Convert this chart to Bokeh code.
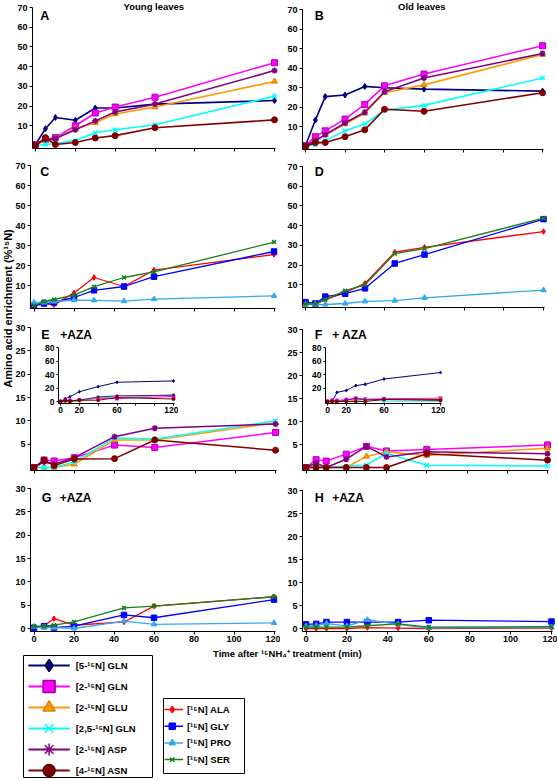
import math
from bokeh.plotting import figure
from bokeh.models import Range1d, FixedTicker, Label, ColumnDataSource, Column
from bokeh.embed import file_html
from bokeh.resources import INLINE
from bokeh.core.properties import value

FONT = "Liberation Sans"

# ---------------- data ----------------
T_A = [0, 5, 10, 20, 30, 40, 60, 120]
T_B = [0, 5, 10, 20, 30, 40, 60, 120]
T_C = [0, 5, 10, 20, 30, 45, 60, 120]
T_D = [0, 5, 10, 20, 30, 45, 60, 120]
T_E = [0, 5, 10, 20, 40, 60, 120]
T_F = [0, 5, 10, 20, 30, 40, 60, 120]
T_G = [0, 5, 10, 20, 45, 60, 120]
T_H = [0, 5, 10, 20, 30, 45, 60, 120]

A_gln5 = [0.5, 8.5, 14.2, 12.8, 19, 19, 21, 22.8]
A_gln2 = [0.5, 3, 4, 10, 16.5, 19.5, 24.5, 42]
A_glu = [0.3, 2.5, 3.5, 8.5, 11.5, 16, 19.5, 32.5]
A_gln25 = [0, 0.5, 1, 2.5, 6.5, 8, 10.5, 25]
A_asp = [0.5, 3, 3.5, 8, 12.5, 17, 21, 38]
A_asn = [0, 4, 0.5, 1.5, 3.8, 5, 9, 13]

B_gln5 = [0.5, 13.5, 25.5, 26.3, 30.7, 30, 29.3, 28.3]
B_gln2 = [0.5, 5, 8, 14, 21.5, 31, 37, 51.5]
B_glu = [0.3, 3, 6, 11.5, 17, 27.5, 31.5, 47]
B_gln25 = [0, 1, 3, 8, 11.5, 18.5, 21, 35]
B_asp = [0.5, 3, 6, 12, 17.5, 28, 35, 47.5]
B_asn = [0, 2, 2, 5, 8.5, 19, 18, 27.5]

C_ala = [0, 1, 0.3, 6.3, 14, 9.5, 17.7, 25.5]
C_gly = [0, 1, 1.5, 4, 7.6, 9.5, 14.4, 27]
C_pro = [1.5, 1.5, 2, 2.7, 2.6, 2.2, 3.2, 4.8]
C_ser = [0, 2, 3, 5.2, 9.4, 14, 16.8, 31.7]

D_ala = [0, 0.2, 2.5, 6, 10.7, 26.5, 29, 37]
D_gly = [1.2, 0.5, 4, 5.5, 8.2, 20.8, 25.3, 43.3]
D_pro = [0, 0, 0, 0.5, 1.6, 2, 3.4, 7.3]
D_ser = [0.3, 0.3, 2.5, 7, 10, 25.8, 28.3, 43.8]

E_gln5 = [0, 4, 7, 14.5, 22, 28.5, 30.5]
E_gln2 = [0, 1.6, 1.4, 2.1, 4.8, 4.3, 7.5]
E_glu = [0, 0, 0, 0.7, 5.9, 5.9, 9.6]
E_gln25 = [0, 0, 0, 1.2, 6.3, 6.1, 10]
E_asp = [0, 1.2, 0.7, 2.1, 6.6, 8.4, 9.3]
E_asn = [0, 1.6, 0.4, 1.8, 1.9, 5.9, 3.7]

F_gln5 = [0, 0, 13.5, 16.4, 23.6, 25.5, 33.3, 42.9]
F_gln2 = [0, 1.7, 1.4, 2.9, 4.6, 3.6, 3.9, 4.9]
F_glu = [0, 0, 0, 0, 2.4, 3.4, 2.6, 4.2]
F_gln25 = [0, 0.5, 0, 0.3, 0.5, 3.1, 0.5, 0.3]
F_asp = [0, 1, 0, 1.8, 4.6, 2.3, 3.4, 3]
F_asn = [0, 0, 0, 0, 0, 0, 3, 1.6]

G_ala = [0.1, 0.6, 2.1, 0.7, 1.4, 4.8, 6.8]
G_gly = [0.1, 0.5, 0.2, 0.5, 2.9, 2.3, 6.2]
G_pro = [0.4, 0.2, 0.2, 0, 1.6, 0.9, 1.2]
G_ser = [0.5, 0.5, 0.7, 1.4, 4.4, 4.8, 6.8]

H_ala = [0, 0, 0, 0, 0.2, 0.1, 0, 0.1]
H_gly = [0.9, 1.0, 1.4, 1.4, 1.4, 1.4, 1.8, 1.5]
H_pro = [0.5, 0.6, 1.1, 0.5, 1.9, 0.9, 0.1, 0.3]
H_ser = [0.3, 0.3, 0.3, 0.3, 0.6, 1.0, 0.3, 0.4]

S1_LABELS = ["[5-\u00b9\u2075N] GLN", "[2-\u00b9\u2075N] GLN", "[2-\u00b9\u2075N] GLU",
             "[2,5-\u00b9\u2075N] GLN", "[2-\u00b9\u2075N] ASP", "[4-\u00b9\u2075N] ASN"]
S2_LABELS = ["[\u00b9\u2075N] ALA", "[\u00b9\u2075N] GLY", "[\u00b9\u2075N] PRO", "[\u00b9\u2075N] SER"]

X_TICKS = [0, 20, 40, 60, 80, 100, 120]
Y_TICKS_70 = [10, 20, 30, 40, 50, 60, 70]
Y_TICKS_30 = [5, 10, 15, 20, 25, 30]
Y_TICKS_30Z = [0, 5, 10, 15, 20, 25, 30]
INSET_Y_E = [0, 20, 40, 60, 80]
INSET_Y_F = [20, 40, 60, 80]

# ---------------- styles ----------------
S1_COLORS = ["#000080", "#FF00FF", "#FF9900", "#00FFFF", "#800080", "#800000"]
S1_LINES = ["#000080", "#B000B0", "#E08000", "#00E0E0", "#800080", "#800000"]
S1_MARKERS = ["diamond", "square", "triangle", "x", "asterisk", "circle"]
S2_COLORS = ["#FF0000", "#0000FF", "#33AAEE", "#1A7F1A"]
S2_MARKERS = ["diamond", "square", "triangle", "x"]

PAGE_W, PAGE_H = 558, 781
LPAD = 60  # generous left border so every frame is placed exactly
BG_W = 490  # text layer width (kept so that LPAD + BG_W <= page width)


def absolute(left, top):
    return {"position": "absolute", "left": f"{left}px", "top": f"{top}px"}


def borders(l, r, t, b):
    return dict(min_border=0, min_border_left=l, min_border_right=r,
                min_border_top=t, min_border_bottom=b)


def bare_figure(frame_left, frame_top, fw, fh, x_range, y_range, **kw):
    p = figure(width=LPAD + fw, height=fh, x_range=x_range, y_range=y_range,
               output_backend="svg", toolbar_location=None,
               x_axis_type=None, y_axis_type=None,
               styles=absolute(frame_left - LPAD, frame_top), **borders(LPAD, 0, 0, 0), **kw)
    p.grid.visible = False
    return p


def make_panel(x0_px, x120_px, y0_px, ytop_px, ymax, yticks, xlabels,
               font_size="9px", BB=22, xtick_list=X_TICKS, xoverrides=None,
               tick_out=3, standoff=2, pad=3, pad_r=4, pad_t=3):
    """One figure per panel: axes on the frame edges, frame padded a little so
    markers sitting on zero are not clipped."""
    sx = (x120_px - x0_px) / 120.0
    sy = (y0_px - ytop_px) / float(ymax)
    fl, fr = int(round(x0_px - pad)), int(round(x120_px + pad_r))
    ft, fb = int(round(ytop_px - pad_t)), int(round(y0_px + pad))
    BL, BR, BT = LPAD, 2, 6
    xs, xe = (fl - x0_px) / sx, 120 + (fr - x120_px) / sx
    ys, ye = -(fb - y0_px) / sy, ymax + (ytop_px - ft) / sy
    p = figure(width=BL + (fr - fl) + BR, height=BT + (fb - ft) + BB,
               x_range=Range1d(xs, xe), y_range=Range1d(ys, ye),
               output_backend="svg", toolbar_location=None,
               background_fill_alpha=0, border_fill_alpha=0, outline_line_color=None,
               styles=absolute(fl - BL, ft - BT), **borders(BL, BR, BT, BB))
    p.grid.visible = False
    for ax in (p.xaxis[0], p.yaxis[0]):
        ax.axis_line_color = "black"
        ax.axis_line_width = 1
        ax.major_tick_line_color = "black"
        ax.major_tick_out = tick_out
        ax.major_tick_in = 0
        ax.minor_tick_out = 0
        ax.minor_tick_in = 0
        ax.major_label_text_font = FONT
        ax.major_label_text_font_style = "bold"
        ax.major_label_text_font_size = font_size
        ax.major_label_text_color = "black"
        ax.major_label_standoff = standoff
    p.yaxis.ticker = FixedTicker(ticks=yticks)
    p.yaxis.bounds = (ys, ymax)
    p.xaxis.ticker = FixedTicker(ticks=xtick_list)
    p.xaxis.bounds = (xs, 120 + 1.0 / sx)
    if xoverrides:
        p.xaxis.major_label_overrides = xoverrides
    if not xlabels:
        p.xaxis.major_label_text_color = None
    else:
        p.xaxis.major_label_standoff = 1
    return p


def draw(p, t, series, colors, lines, markers, lw, msize):
    for y, c, lc, m in zip(series, colors, lines, markers):
        if y is None:
            continue
        p.line(t, y, line_color=c, line_width=lw)
        if m in ("x", "asterisk"):
            p.scatter(t, y, marker=m, size=msize, line_color=c, line_width=1.6)
        else:
            p.scatter(t, y, marker=m, size=msize, fill_color=c, line_color=lc, line_width=1)


figs = []

# background: titles and axis titles (page pixel coordinates)
bg = bare_figure(0, 0, BG_W, PAGE_H, Range1d(0, BG_W), Range1d(PAGE_H, 0),
                 background_fill_alpha=0, border_fill_alpha=0, outline_line_color=None)


def lab(text, x, y, size, align="left", angle=0.0):
    bg.add_layout(Label(x=x, y=y, text=text, text_font=FONT, text_font_style="bold",
                        text_font_size=size, text_align=align, text_baseline="middle",
                        text_color="black", angle=angle))


lab("Young leaves", 154, 6, "9.5px", "center")
lab("Old leaves", 423, 6, "9.5px", "center")
for t_, x_, y_ in [("A", 40, 15), ("B", 315.5, 15), ("C", 40, 171), ("D", 315.5, 171),
                   ("E", 41, 334), ("F", 315.5, 334), ("G", 41.5, 497), ("H", 315.5, 497)]:
    lab(t_, x_, y_, "12.5px")
for t_, x_, y_ in [("+AZA", 60, 334), ("+ AZA", 333, 334), ("+AZA", 59.5, 497), ("+AZA", 333, 497)]:
    lab(t_, x_, y_, "12px")
lab("Time after \u00b9\u2075NH\u2084\u207a treatment (min)", 288, 653, "9.5px", "center")
lab("Amino acid enrichment (%\u00b9\u2075N)", 8, 308, "11px", "center", angle=math.pi / 2)
figs.append(bg)

panels = [
    (35, 274, 145, 7, 70, Y_TICKS_70, False, T_A,
     [A_gln5, A_gln2, A_glu, A_gln25, A_asp, A_asn], S1_COLORS, S1_LINES, S1_MARKERS, 1.6, 6),
    (305, 542, 146, 9, 70, Y_TICKS_70, False, T_B,
     [B_gln5, B_gln2, B_glu, B_gln25, B_asp, B_asn], S1_COLORS, S1_LINES, S1_MARKERS, 1.6, 6),
    (33.5, 273.5, 305, 165, 70, Y_TICKS_70, False, T_C,
     [C_ala, C_gly, C_pro, C_ser], S2_COLORS, S2_COLORS, S2_MARKERS, 1.3, 5.5),
    (305, 543, 304, 166, 70, Y_TICKS_70, False, T_D,
     [D_ala, D_gly, D_pro, D_ser], S2_COLORS, S2_COLORS, S2_MARKERS, 1.3, 5.5),
    (33.5, 275, 467, 327, 30, Y_TICKS_30, False, T_E,
     [None, E_gln2, E_glu, E_gln25, E_asp, E_asn], S1_COLORS, S1_LINES, S1_MARKERS, 1.5, 6),
    (305.5, 547, 467, 329, 30, Y_TICKS_30, False, T_F,
     [None, F_gln2, F_glu, F_gln25, F_asp, F_asn], S1_COLORS, S1_LINES, S1_MARKERS, 1.5, 6),
    (33.5, 273.5, 628, 488, 30, Y_TICKS_30Z, True, T_G,
     [G_ala, G_gly, G_pro, G_ser], S2_COLORS, S2_COLORS, S2_MARKERS, 1.3, 5.5),
    (305.5, 551, 628, 490, 30, Y_TICKS_30Z, True, T_H,
     [H_ala, H_gly, H_pro, H_ser], S2_COLORS, S2_COLORS, S2_MARKERS, 1.3, 5.5),
]
for (x0, x120, y0, ytop, ymax, yt, xl, t, ser, cols, lns, mks, lw, ms) in panels:
    p = make_panel(x0, x120, y0, ytop, ymax, yt, xl)
    draw(p, t, ser, cols, lns, mks, lw, ms)
    figs.append(p)

# insets
blank = {40: "", 80: "", 100: ""}
insets = [
    (60, 173, 401, 347, 80, INSET_Y_E, T_E, [E_gln5, E_gln2, E_glu, E_gln25, E_asp, E_asn]),
    (327, 440, 401, 347, 80, INSET_Y_F, T_F, [F_gln5, F_gln2, F_glu, F_gln25, F_asp, F_asn]),
]
for (x0, x120, y0, ytop, ymax, yt, t, ser) in insets:
    p = make_panel(x0, x120, y0, ytop, ymax, yt, True, font_size="8.5px",
                   BB=16, xoverrides=blank, tick_out=2, standoff=2, pad=2, pad_r=3, pad_t=2)
    draw(p, t, ser, S1_COLORS, S1_COLORS, S1_MARKERS, 1, 3)
    figs.append(p)


# legends (drawn as key boxes)
def legend_box(left_px, top_px, w, h, labels, colors, lines, markers, first, step,
               gx0, gx1, mx, tx, msize, lw, font):
    n = len(labels)
    idx = list(range(n))
    top_u = -(first / step)
    bot_u = (h - first) / step
    p = bare_figure(left_px, top_px, w, h, Range1d(0, w), Range1d(bot_u, top_u),
                    background_fill_color="white", border_fill_alpha=0,
                    outline_line_color="black", outline_line_width=1)
    src = ColumnDataSource(dict(y=idx, label=labels, color=colors, lc=lines, marker=markers,
                                x0=[gx0] * n, x1=[gx1] * n, mx=[mx] * n, tx=[tx] * n))
    p.segment(x0="x0", y0="y", x1="x1", y1="y", line_color="color", line_width=lw, source=src)
    p.scatter(x="mx", y="y", marker="marker", size=msize, fill_color="color", line_color="lc",
              line_width=1.5, source=src)
    p.text(x="tx", y="y", text="label", text_font=value(FONT), text_font_style="bold",
           text_font_size=font, text_baseline="middle", text_color="black", source=src)
    return p


L1_LINES = ["#000040", "#A000A0", "#E08000", "#00FFFF", "#800080", "#500000"]
legA = legend_box(23, 655, 131, 123, S1_LABELS, S1_COLORS, L1_LINES, S1_MARKERS,
                  10, 21, 5, 47, 26, 53, 12, 2, "9.5px")
legB = legend_box(163, 698, 83, 76, S2_LABELS, S2_COLORS, S2_COLORS, S2_MARKERS,
                  11, 16.7, 1, 20, 9, 24, 6, 1.5, "9.5px")
figs += [legA, legB]

root = Column(children=figs, width=PAGE_W, height=PAGE_H, sizing_mode="fixed",
              styles={"position": "relative"})

open("out.html", "w").write(file_html(root, INLINE))
